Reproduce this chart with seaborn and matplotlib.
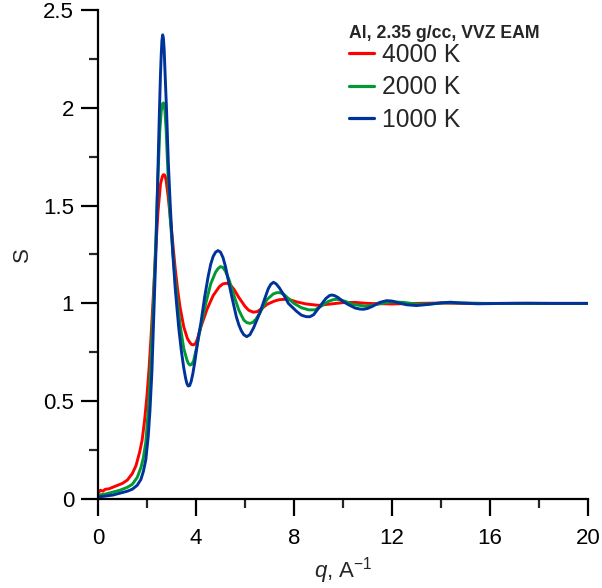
import numpy as np
import pandas as pd
import matplotlib
matplotlib.use("Agg")
import matplotlib.pyplot as plt
import seaborn as sns
from matplotlib.ticker import MultipleLocator, FuncFormatter

# ---- data ----
series_labels = ["4000 K", "2000 K", "1000 K"]
series_colors = ["#ff0000", "#009933", "#003399"]

q_4000 = [0.0, 0.1, 0.2, 0.3, 0.45, 0.6, 0.8, 1.0, 1.2, 1.4, 1.55, 1.7, 1.8, 1.9, 2.0, 2.08,
          2.16, 2.25, 2.35, 2.45, 2.55, 2.63, 2.67, 2.71, 2.74, 2.78, 2.86, 2.95, 3.05, 3.15,
          3.25, 3.35, 3.5, 3.65, 3.75, 3.82, 3.9, 3.98, 4.05, 4.2, 4.45, 4.7, 4.95, 5.1, 5.25,
          5.4, 5.55, 5.75, 6.0, 6.15, 6.34, 6.5, 6.7, 6.9, 7.2, 7.4, 7.63, 7.85, 8.1, 8.5, 9.0,
          9.5, 10.0, 10.5, 11.0, 12.0, 13.0, 14.0, 15.0, 17.0, 20.0]
s_4000 = [0.03, 0.045, 0.04, 0.05, 0.052, 0.06, 0.07, 0.08, 0.097, 0.13, 0.17, 0.24, 0.3, 0.4,
          0.53, 0.66, 0.82, 1.02, 1.26, 1.47, 1.61, 1.65, 1.658, 1.657, 1.65, 1.63, 1.55, 1.44,
          1.31, 1.18, 1.07, 0.98, 0.88, 0.82, 0.8, 0.79, 0.788, 0.795, 0.815, 0.88, 0.97, 1.04,
          1.085, 1.1, 1.103, 1.095, 1.072, 1.03, 0.985, 0.965, 0.955, 0.958, 0.975, 0.995, 1.012,
          1.019, 1.021, 1.018, 1.008, 0.997, 0.99, 0.997, 1.004, 1.005, 1.0, 0.997, 1.0, 1.002,
          1.0, 1.0, 1.0]

q_2000 = [0.0, 0.3, 0.6, 0.9, 1.2, 1.4, 1.6, 1.75, 1.85, 1.95, 2.05, 2.12, 2.2, 2.28, 2.36,
          2.44, 2.52, 2.58, 2.61, 2.64, 2.67, 2.7, 2.73, 2.78, 2.86, 2.95, 3.05, 3.15, 3.25,
          3.35, 3.5, 3.62, 3.68, 3.75, 3.82, 3.9, 4.05, 4.2, 4.4, 4.6, 4.8, 4.9, 5.0, 5.1, 5.2,
          5.35, 5.55, 5.75, 5.95, 6.07, 6.2, 6.32, 6.45, 6.6, 6.9, 7.15, 7.3, 7.43, 7.6, 7.77,
          8.0, 8.3, 8.6, 8.86, 9.1, 9.4, 9.6, 9.74, 9.9, 10.1, 10.4, 10.96, 11.5, 12.0, 12.5,
          13.0, 13.5, 14.2, 15.0, 16.0, 17.0, 18.5, 20.0]
s_2000 = [0.02, 0.025, 0.035, 0.045, 0.06, 0.075, 0.11, 0.16, 0.21, 0.29, 0.45, 0.6, 0.82, 1.05,
          1.32, 1.62, 1.88, 1.98, 2.01, 2.022, 2.025, 2.012, 1.985, 1.89, 1.65, 1.43, 1.27, 1.12,
          1.0, 0.89, 0.77, 0.715, 0.695, 0.685, 0.688, 0.705, 0.79, 0.885, 1.0, 1.1, 1.16, 1.178,
          1.188, 1.184, 1.165, 1.12, 1.04, 0.965, 0.915, 0.902, 0.898, 0.903, 0.92, 0.95, 1.02,
          1.048, 1.055, 1.055, 1.045, 1.025, 1.0, 0.978, 0.967, 0.967, 0.985, 1.01, 1.019, 1.021,
          1.018, 1.01, 0.995, 0.985, 0.998, 1.008, 1.005, 0.996, 0.997, 1.003, 1.002, 0.999, 1.0,
          1.0, 1.0]

q_1000 = [0.0, 0.3, 0.6, 0.9, 1.2, 1.4, 1.6, 1.75, 1.85, 1.95, 2.05, 2.12, 2.2, 2.28, 2.36,
          2.43, 2.5, 2.55, 2.58, 2.61, 2.64, 2.67, 2.7, 2.73, 2.8, 2.87, 2.95, 3.05, 3.15, 3.22,
          3.3, 3.4, 3.5, 3.58, 3.63, 3.68, 3.74, 3.8, 3.87, 3.95, 4.1, 4.2, 4.35, 4.5, 4.6, 4.7,
          4.8, 4.9, 5.0, 5.1, 5.2, 5.3, 5.46, 5.65, 5.75, 5.85, 5.95, 6.07, 6.2, 6.35, 6.5, 6.6,
          6.85, 6.95, 7.05, 7.16, 7.27, 7.4, 7.55, 7.77, 8.1, 8.3, 8.5, 8.65, 8.8, 9.0, 9.15,
          9.3, 9.45, 9.54, 9.65, 9.8, 10.0, 10.2, 10.5, 10.7, 10.83, 11.0, 11.2, 11.5, 11.78,
          12.0, 12.3, 12.6, 13.0, 13.5, 14.0, 14.4, 14.8, 15.5, 16.5, 17.5, 18.5, 20.0]
s_1000 = [0.01, 0.015, 0.02, 0.03, 0.04, 0.05, 0.07, 0.1, 0.14, 0.2, 0.32, 0.45, 0.65, 0.95,
          1.25, 1.6, 1.95, 2.17, 2.27, 2.345, 2.373, 2.355, 2.3, 2.2, 1.98, 1.72, 1.5, 1.26,
          1.08, 0.98, 0.87, 0.76, 0.67, 0.615, 0.59, 0.578, 0.58, 0.6, 0.64, 0.7, 0.83, 0.9,
          1.03, 1.14, 1.2, 1.24, 1.262, 1.27, 1.262, 1.235, 1.19, 1.13, 1.035, 0.93, 0.89,
          0.86, 0.84, 0.83, 0.84, 0.875, 0.92, 0.95, 1.04, 1.075, 1.097, 1.108, 1.1, 1.08,
          1.05, 1.0, 0.96, 0.94, 0.932, 0.932, 0.942, 0.975, 1.0, 1.025, 1.04, 1.043, 1.04,
          1.03, 1.01, 0.995, 0.976, 0.971, 0.97, 0.974, 0.985, 1.005, 1.014, 1.012, 1.002,
          0.993, 0.989, 0.995, 1.003, 1.006, 1.002, 0.998, 1.0, 1.001, 1.0, 1.0]

x_ticks = [0, 4, 8, 12, 16, 20]
y_ticks = [0, 0.5, 1, 1.5, 2, 2.5]
legend_title = "Al, 2.35 g/cc, VVZ EAM"
x_label = r"$q$, A$^{-1}$"
y_label = "S"

# ---- build table ----
frames = []
for lab, q, s in zip(series_labels, [q_4000, q_2000, q_1000], [s_4000, s_2000, s_1000]):
    frames.append(pd.DataFrame({"q": q, "S": s, "T": lab}))
df = pd.concat(frames, ignore_index=True)

sns.set_style("ticks")
plt.rcParams["font.family"] = ["Liberation Sans", "DejaVu Sans"]
plt.rcParams["mathtext.fontset"] = "custom"
plt.rcParams["mathtext.rm"] = "Liberation Sans"
plt.rcParams["mathtext.it"] = "Liberation Sans:italic"

fig = plt.figure(figsize=(6.02, 5.88), dpi=100)
ax = fig.add_axes([98 / 602, 89 / 588, 490 / 602, 489 / 588])

sns.lineplot(data=df, x="q", y="S", hue="T", hue_order=series_labels,
             palette=dict(zip(series_labels, series_colors)), sort=False,
             linewidth=2.1, ax=ax, estimator=None)
for ln in ax.get_lines():
    ln.set_solid_joinstyle("round")

ax.set_xlim(0, 20)
ax.set_ylim(0, 2.5)
ax.set_xticks(x_ticks)
ax.set_yticks(y_ticks)
ax.xaxis.set_minor_locator(MultipleLocator(2))
ax.yaxis.set_minor_locator(MultipleLocator(0.25))
fmt = FuncFormatter(lambda v, p: ("%g" % v))
ax.xaxis.set_major_formatter(fmt)
ax.yaxis.set_major_formatter(fmt)
ax.tick_params(which="major", direction="out", length=12.2, width=1.6, labelsize=16,
               colors="black")
ax.tick_params(axis="x", which="major", pad=8.4)
ax.tick_params(axis="y", which="major", pad=5)
ax.tick_params(which="minor", direction="out", length=6.5, width=1.6)
for side in ["top", "right"]:
    ax.spines[side].set_visible(False)
for side in ["left", "bottom"]:
    ax.spines[side].set_linewidth(1.6)
    ax.spines[side].set_color("black")

ax.set_xlabel(x_label, fontsize=16)
ax.set_ylabel(y_label, fontsize=16)
ax.xaxis.set_label_coords(0.5, (499 - 555) / 489)
ax.yaxis.set_label_coords((32.7 - 98) / 490, 0.5)

leg = ax.legend(title=legend_title, frameon=False, loc="upper left",
                bbox_to_anchor=(349 / 602, 1 - 25 / 588), bbox_transform=fig.transFigure,
                borderaxespad=0, borderpad=0, fontsize=17.7, handlelength=1.02,
                handletextpad=0.33, labelspacing=0.35, alignment="left",
                title_fontproperties={"weight": "bold", "size": 12.7})
leg._legend_box.sep = 0.5
for line in leg.get_lines():
    line.set_linewidth(2.3)

fig.savefig("out.png", dpi=100)
